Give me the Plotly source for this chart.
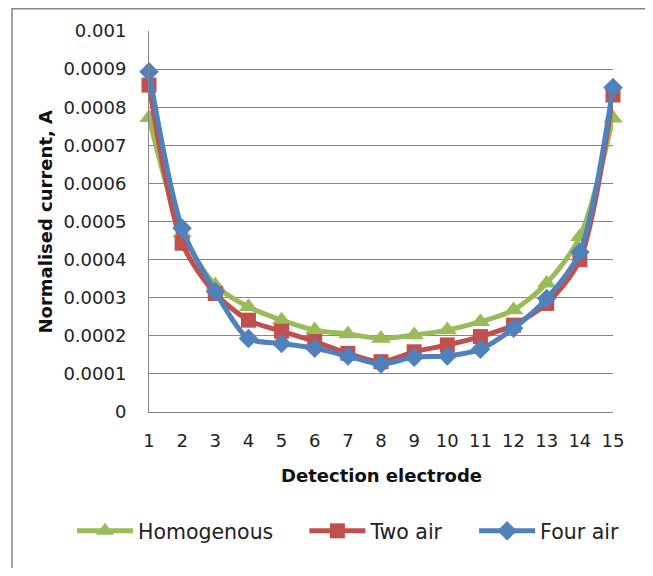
import plotly.graph_objects as go

electrodes = list(range(1, 16))
homogenous = [0.000772, 0.00047, 0.000333, 0.000276, 0.000241, 0.000215, 0.000205, 0.000193,
              0.000202, 0.000215, 0.000237, 0.000268, 0.000338, 0.00046, 0.000771]
two_air = [0.000858, 0.000443, 0.000311, 0.000241, 0.000212, 0.000185, 0.000154, 0.000132,
           0.000158, 0.000176, 0.000198, 0.000228, 0.000285, 0.0004, 0.000832]
four_air = [0.000893, 0.000482, 0.000316, 0.000193, 0.00018, 0.000167, 0.000147, 0.000126,
            0.000144, 0.000147, 0.000165, 0.00022, 0.000298, 0.00042, 0.000852]
series_names = ["Homogenous", "Two air", "Four air"]
y_tickvals = [i / 10000 for i in range(11)]
y_ticktext = ["0", "0.0001", "0.0002", "0.0003", "0.0004", "0.0005", "0.0006",
              "0.0007", "0.0008", "0.0009", "0.001"]

# page body has an 8px margin; work in screen pixels and convert
OFF = 8
W, H = 653 - OFF, 576 - 2 * OFF
L, T = 149 - OFF, 31 - OFF
R = W - (613 - OFF)
B = H - (412 - OFF)
pw, ph = W - L - R, H - T - B

def px(x):
    return (x - OFF - L) / pw

def py(y):
    return (H - B - (y - OFF)) / ph

FONT = "DejaVu Sans"
PAD = "\u00a0" * 4  # extra spacing between legend entries
fig = go.Figure()
series = [
    (series_names[0], homogenous, "#9BBB59", "triangle-up", 17, PAD),
    (series_names[1], two_air, "#C0504D", "square", 15, PAD),
    (series_names[2], four_air, "#4F81BD", "diamond", 15, ""),
]
for name, vals, col, sym, sz, pad in series:
    fig.add_trace(go.Scatter(
        x=electrodes, y=vals, name=name + pad, mode="lines+markers",
        line=dict(color=col, width=5, shape="spline", smoothing=0.8),
        marker=dict(symbol=sym, size=sz, color=col),
        cliponaxis=False,
    ))

fig.update_layout(
    width=W, height=H,
    margin=dict(l=L, r=R, t=T, b=B, autoexpand=False),
    paper_bgcolor="white", plot_bgcolor="white",
    font=dict(family=FONT, size=18, color="#222222"),
    showlegend=True,
    legend=dict(orientation="h", x=px(72), y=py(531), xanchor="left", yanchor="middle",
                font=dict(size=20.5, color="#222222"), itemwidth=56, tracegroupgap=0,
                bgcolor="rgba(0,0,0,0)"),
    xaxis=dict(range=[1, 15], tickvals=electrodes, ticktext=[str(e) for e in electrodes],
               showgrid=False, zeroline=False, showline=True, linecolor="#868686", linewidth=1,
               ticks="", ticklabelstandoff=12, automargin=False),
    yaxis=dict(range=[0, 0.001], tickvals=y_tickvals, ticktext=y_ticktext,
               showgrid=True, gridcolor="#868686", gridwidth=1, zeroline=False,
               showline=True, linecolor="#868686", linewidth=1, ticks="",
               ticklabelstandoff=18, automargin=False),
    annotations=[
        dict(text="<b>Detection electrode</b>", x=0.5, y=py(475), xref="paper", yref="paper",
             showarrow=False, xanchor="center", yanchor="middle",
             font=dict(family=FONT, size=18, color="#111111")),
        dict(text="<b>Normalised current, A</b>", x=px(45), y=0.5, xref="paper", yref="paper",
             showarrow=False, xanchor="center", yanchor="middle", textangle=-90,
             font=dict(family=FONT, size=18, color="#111111")),
    ],
    shapes=[dict(type="rect", xref="paper", yref="paper",
                 x0=px(12), x1=px(648), y0=py(620), y1=py(8.8),
                 line=dict(color="#868686", width=1.5), fillcolor="rgba(0,0,0,0)", layer="below")],
)

fig.write_html("out.html")
